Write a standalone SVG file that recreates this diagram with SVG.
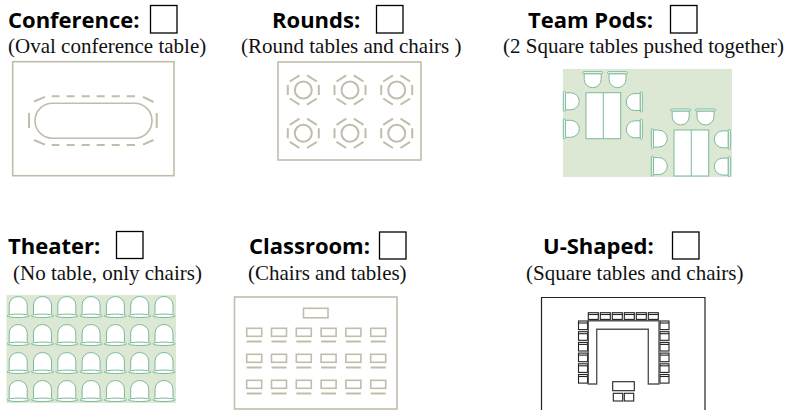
<svg xmlns="http://www.w3.org/2000/svg" xmlns:xlink="http://www.w3.org/1999/xlink" width="788" height="410" viewBox="0 0 788 410">
<style>
.h{font-family:"Open Sans","Liberation Sans",sans-serif;font-weight:bold;font-size:22px;fill:#000}
.s{font-family:"Liberation Serif","Times New Roman",serif;font-size:21px;fill:#111}
.cb{fill:none;stroke:#000;stroke-width:1.3}
.tan{fill:none;stroke:#c2bcaa;stroke-width:1.6}
.tand{fill:none;stroke:#c2bcaa;stroke-width:2}
.grn{fill:#dde8d4}
.gc{fill:#fff;stroke:#7db99a;stroke-width:1}
.blk{fill:#fff;stroke:#222;stroke-width:1.1}
.u{fill:#fff;stroke:#555;stroke-width:1.4}
</style>
<defs>
<g id="rt" class="tand">
<circle r="8.5"/>
<path d="M-15.5,-5V5M15.5,-5V5M-13.5,-8.5L-3.8,-14.7M3.8,-14.7L13.5,-8.5M-13.5,8.5L-3.8,14.7M3.8,14.7L13.5,8.5"/>
</g>
<g id="pc" class="gc">
<path d="M-8.5,2V7.5A8.5,8.5 0 0 0 8.5,7.5V2Z"/>
<rect x="-10" y="0" width="20" height="2" rx="1"/>
</g>
<g id="tc" class="gc">
<path d="M-9,17.7V8.5A9,8.5 0 0 1 9,8.5V17.7"/>
<ellipse cx="0" cy="19.3" rx="11.2" ry="1.7"/>
</g>
<g id="desk" class="tan">
<rect x="0" y="0" width="15" height="8"/>
<path d="M0,13.2H15" stroke-width="2"/>
</g>
<g id="uc" class="blk">
<rect x="0" y="0" width="9" height="8.6"/>
<path d="M0,2H9"/>
</g>
<g id="ut" class="blk">
<rect x="0" y="0" width="10" height="6.7"/>
<path d="M0,1.8H10"/>
</g>
<g id="pod">
<use xlink:href="#pc" transform="translate(592.7,71.7)"/>
<use xlink:href="#pc" transform="translate(617.5,71.7)"/>
<use xlink:href="#pc" transform="translate(563.3,101.3) rotate(-90)"/>
<use xlink:href="#pc" transform="translate(563.3,128.8) rotate(-90)"/>
<use xlink:href="#pc" transform="translate(642.3,102) rotate(90)"/>
<use xlink:href="#pc" transform="translate(642.3,129.3) rotate(90)"/>
<rect class="gc" x="586" y="92.7" width="34.7" height="46"/>
<path class="gc" d="M603.3,92.7V138.7"/>
</g>
</defs>

<g id="conference">
<text class="h" x="8" y="28">Conference:</text>
<rect class="cb" x="150.5" y="5.5" width="26.5" height="27.5"/>
<text class="s" x="8" y="53">(Oval conference table)</text>
<rect class="tan" x="12.7" y="61.7" width="161.3" height="114"/>
<rect class="tan" x="35" y="103.3" width="117" height="35" rx="17.5"/>
<path class="tand" d="M51.7,96.3h7.8M66.7,96.3h8M81.7,96.3h8M96.7,96.3h8M111.7,96.3h8M126.7,96.3h8.3M51.7,145h7.8M66.7,145h8M81.7,145h8M96.7,145h8M111.7,145h8M126.7,145h8.3M34,101.5L45,96.8M143,96.8L153.5,102M34,140L45,144.6M143,144.6L153.5,140M29,113V128M156.7,113V128"/>
</g>

<g id="rounds">
<text class="h" x="272" y="28">Rounds:</text>
<rect class="cb" x="376.5" y="5.5" width="26.5" height="27.5"/>
<text class="s" x="241" y="53">(Round tables and chairs )</text>
<rect class="tan" x="278" y="62" width="143" height="98"/>
<use xlink:href="#rt" x="303.3" y="90"/>
<use xlink:href="#rt" x="350" y="90"/>
<use xlink:href="#rt" x="396.7" y="90"/>
<use xlink:href="#rt" x="303.3" y="133.3"/>
<use xlink:href="#rt" x="350" y="133.3"/>
<use xlink:href="#rt" x="396.7" y="133.3"/>
</g>

<g id="team-pods">
<text class="h" x="528" y="28">Team Pods:</text>
<rect class="cb" x="670.5" y="5.5" width="26.5" height="27.5"/>
<text class="s" x="503" y="53">(2 Square tables pushed together)</text>
<rect class="grn" x="563" y="69" width="169" height="108"/>
<use xlink:href="#pod"/>
<use xlink:href="#pod" transform="translate(88,37.3)"/>
</g>

<g id="theater">
<text class="h" x="8" y="253.5">Theater:</text>
<rect class="cb" x="116.5" y="231.5" width="26.5" height="27"/>
<text class="s" x="13" y="280">(No table, only chairs)</text>
<rect class="grn" x="6.5" y="295" width="169.5" height="108"/>
<use xlink:href="#tc" x="18.2" y="296.5"/><use xlink:href="#tc" x="42.5" y="296.5"/><use xlink:href="#tc" x="66.8" y="296.5"/><use xlink:href="#tc" x="91.1" y="296.5"/><use xlink:href="#tc" x="115.4" y="296.5"/><use xlink:href="#tc" x="139.7" y="296.5"/><use xlink:href="#tc" x="164" y="296.5"/>
<use xlink:href="#tc" x="18.2" y="324.5"/><use xlink:href="#tc" x="42.5" y="324.5"/><use xlink:href="#tc" x="66.8" y="324.5"/><use xlink:href="#tc" x="91.1" y="324.5"/><use xlink:href="#tc" x="115.4" y="324.5"/><use xlink:href="#tc" x="139.7" y="324.5"/><use xlink:href="#tc" x="164" y="324.5"/>
<use xlink:href="#tc" x="18.2" y="352.5"/><use xlink:href="#tc" x="42.5" y="352.5"/><use xlink:href="#tc" x="66.8" y="352.5"/><use xlink:href="#tc" x="91.1" y="352.5"/><use xlink:href="#tc" x="115.4" y="352.5"/><use xlink:href="#tc" x="139.7" y="352.5"/><use xlink:href="#tc" x="164" y="352.5"/>
<use xlink:href="#tc" x="18.2" y="380.5"/><use xlink:href="#tc" x="42.5" y="380.5"/><use xlink:href="#tc" x="66.8" y="380.5"/><use xlink:href="#tc" x="91.1" y="380.5"/><use xlink:href="#tc" x="115.4" y="380.5"/><use xlink:href="#tc" x="139.7" y="380.5"/><use xlink:href="#tc" x="164" y="380.5"/>
</g>

<g id="classroom">
<text class="h" x="249" y="253.5">Classroom:</text>
<rect class="cb" x="379.5" y="232" width="26.5" height="27"/>
<text class="s" x="248" y="280">(Chairs and tables)</text>
<rect class="tan" x="234.5" y="297" width="162.5" height="112"/>
<rect class="tan" x="303.5" y="308.3" width="24.5" height="9.5"/>
<use xlink:href="#desk" x="246.7" y="328.3"/><use xlink:href="#desk" x="271.5" y="328.3"/><use xlink:href="#desk" x="296.3" y="328.3"/><use xlink:href="#desk" x="321.1" y="328.3"/><use xlink:href="#desk" x="345.9" y="328.3"/><use xlink:href="#desk" x="370.7" y="328.3"/>
<use xlink:href="#desk" x="246.7" y="354.3"/><use xlink:href="#desk" x="271.5" y="354.3"/><use xlink:href="#desk" x="296.3" y="354.3"/><use xlink:href="#desk" x="321.1" y="354.3"/><use xlink:href="#desk" x="345.9" y="354.3"/><use xlink:href="#desk" x="370.7" y="354.3"/>
<use xlink:href="#desk" x="246.7" y="380.3"/><use xlink:href="#desk" x="271.5" y="380.3"/><use xlink:href="#desk" x="296.3" y="380.3"/><use xlink:href="#desk" x="321.1" y="380.3"/><use xlink:href="#desk" x="345.9" y="380.3"/><use xlink:href="#desk" x="370.7" y="380.3"/>
</g>

<g id="u-shaped">
<text class="h" x="543" y="253.5">U-Shaped:</text>
<rect class="cb" x="672.5" y="232" width="26.5" height="27"/>
<text class="s" x="526" y="280">(Square tables and chairs)</text>
<path fill="none" stroke="#222" stroke-width="1.2" d="M541.5,410V297.5H705V410"/>
<use xlink:href="#ut" x="588.3" y="312.7"/><use xlink:href="#ut" x="600.3" y="312.7"/><use xlink:href="#ut" x="612.3" y="312.7"/><use xlink:href="#ut" x="624.3" y="312.7"/><use xlink:href="#ut" x="636.3" y="312.7"/><use xlink:href="#ut" x="648.3" y="312.7"/>
<use xlink:href="#uc" x="578.5" y="321"/><use xlink:href="#uc" x="578.5" y="331.7"/><use xlink:href="#uc" x="578.5" y="342.4"/><use xlink:href="#uc" x="578.5" y="353.1"/><use xlink:href="#uc" x="578.5" y="363.8"/><use xlink:href="#uc" x="578.5" y="374.5"/>
<use xlink:href="#uc" x="660" y="321"/><use xlink:href="#uc" x="660" y="331.7"/><use xlink:href="#uc" x="660" y="342.4"/><use xlink:href="#uc" x="660" y="353.1"/><use xlink:href="#uc" x="660" y="363.8"/><use xlink:href="#uc" x="660" y="374.5"/>
<path class="u" d="M588.3,384V320.7H659V384H648.3V329.3H596.7V384Z"/>
<rect class="blk" x="612.7" y="381.7" width="21.6" height="9"/>
<rect class="blk" x="613.3" y="393.3" width="9.4" height="7.7"/>
<rect class="blk" x="624.3" y="393.3" width="9.4" height="7.7"/>
</g>
</svg>
